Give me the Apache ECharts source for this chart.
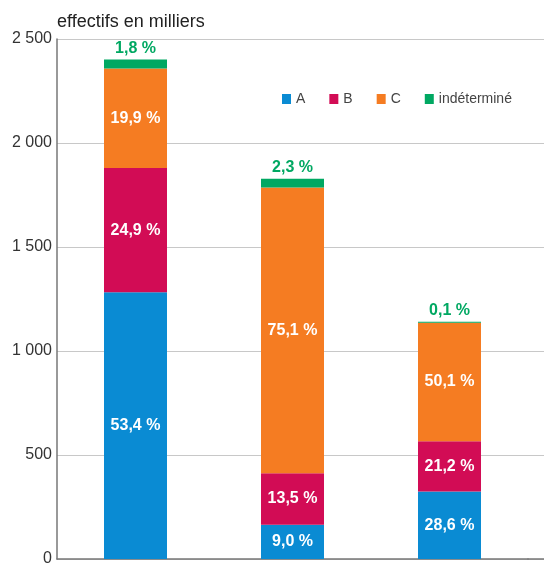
<!DOCTYPE html>
<html>
<head>
<meta charset="utf-8">
<script src="https://cdn.jsdelivr.net/npm/echarts@6/dist/echarts.min.js"></script>
<style>html,body{margin:0;padding:0;background:#fff}#c{width:544px;height:563px}</style>
</head>
<body>
<div id="c"></div>
<script>
// Data (effectifs en milliers) and shares (%)
var categories = ['1', '2', '3'];
var seriesNames = ['A', 'B', 'C', 'indéterminé'];
var valA = [1282, 165, 325];
var valB = [598, 247, 241];
var valC = [478, 1374, 570];
var valI = [43, 42, 1];
var pctA = [53.4, 9.0, 28.6];
var pctB = [24.9, 13.5, 21.2];
var pctC = [19.9, 75.1, 50.1];
var pctI = [1.8, 2.3, 0.1];
var yTicks = [0, 500, 1000, 1500, 2000, 2500];

var colors = ['#0a8bd3', '#d20c55', '#f57c22', '#00a862'];
var FONT = '"Liberation Sans", Arial, sans-serif';

function fmtPct(v) { return v.toFixed(1).replace('.', ',') + ' %'; }

var vals = [valA, valB, valC, valI];
var pcts = [pctA, pctB, pctC, pctI];

var series = vals.map(function (v, k) {
  var isI = k === 3;
  return {
    name: seriesNames[k],
    type: 'bar',
    stack: 'total',
    barWidth: 63,
    barMinHeight: isI ? 1 : 0,
    xAxisIndex: 0, yAxisIndex: 0,
    data: v,
    itemStyle: { color: colors[k] },
    label: {
      show: true,
      position: isI ? 'top' : 'inside',
      distance: 3,
      color: isI ? '#00a862' : '#ffffff',
      fontFamily: FONT,
      fontWeight: 'bold',
      fontSize: 16,
      formatter: function (p) { return fmtPct(pcts[k][p.dataIndex]); }
    }
  };
});

var yMin = yTicks[0], yMax = yTicks[yTicks.length - 1];
var chart = echarts.init(document.getElementById('c'), null, { renderer: 'canvas' });
chart.setOption({
  animation: false,
  color: colors,
  grid: [
    { left: 57, right: 16, top: 39, bottom: 4, containLabel: false, outerBoundsMode: 'none' },
    { left: 528, right: 0, top: 39, bottom: 4, containLabel: false, outerBoundsMode: 'none' }
  ],
  legend: {
    left: 282, top: 92, padding: 0,
    itemWidth: 9, itemHeight: 10, itemGap: 24,
    icon: 'rect',
    data: seriesNames,
    textStyle: { fontFamily: FONT, fontSize: 14, color: '#444' }
  },
  xAxis: [{
    type: 'category', data: categories, gridIndex: 0,
    axisLine: { show: true, lineStyle: { color: '#777', width: 1.5 } },
    axisTick: { show: false }, axisLabel: { show: false }, splitLine: { show: false }
  }, {
    type: 'category', data: [''], gridIndex: 1,
    axisLine: { show: true, lineStyle: { color: '#777', width: 1.5 } },
    axisTick: { show: false }, axisLabel: { show: false }, splitLine: { show: false }
  }],
  yAxis: [{
    type: 'value', min: yMin, max: yMax, interval: 500, gridIndex: 0,
    name: 'effectifs en milliers',
    nameLocation: 'end', nameGap: 7,
    nameTextStyle: { align: 'left', fontFamily: FONT, fontSize: 18, color: '#222' },
    axisLine: { show: true, lineStyle: { color: '#777', width: 1.5 } },
    axisTick: { show: false },
    axisLabel: {
      margin: 5, fontFamily: FONT, fontSize: 16, color: '#333',
      formatter: function (v) { return String(v).replace(/\B(?=(\d{3})+(?!\d))/g, ' '); }
    },
    splitLine: { show: true, lineStyle: { color: '#c8c8c8', width: 1 } }
  }, {
    type: 'value', min: yMin, max: yMax, interval: 500, gridIndex: 1,
    axisLine: { show: false }, axisTick: { show: false }, axisLabel: { show: false },
    splitLine: { show: true, lineStyle: { color: '#c8c8c8', width: 1 } }
  }],
  series: series
});
</script>
</body>
</html>
